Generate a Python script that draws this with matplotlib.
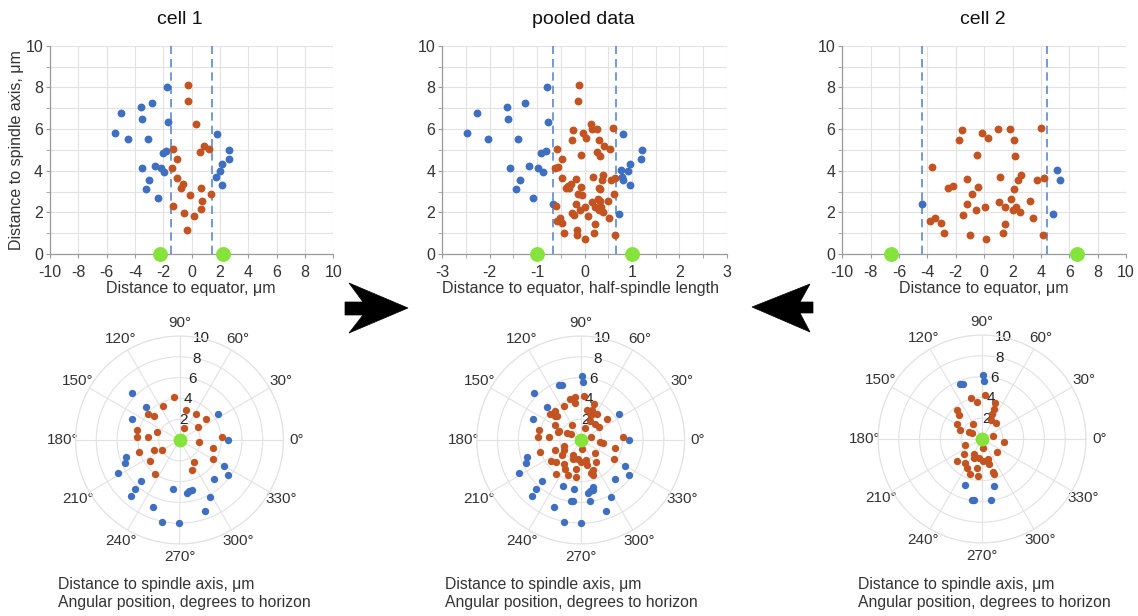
import numpy as np
import matplotlib
matplotlib.use('Agg')
import matplotlib.pyplot as plt
from matplotlib.patches import Polygon

plt.rcParams['font.family'] = ['Liberation Sans', 'DejaVu Sans']

W, H = 1138, 616
BLUE = '#3F6FC1'
ORANGE = '#C35321'
GREEN = '#86E33C'
DASH = '#5B8AD3'
TXT = '#333333'
GRID = '#E2E2E2'

# ---------------- scatter data (distance to equator, distance to spindle axis) ----------------
cell1_half = 2.2          # pole position, um
cell1_dash = 1.47         # dashed boundary, um
cell1_blue_x = [-1.76, -2.78, -3.60, -4.99, -3.53, -1.69, -5.44, -4.49, -3.10, -2.02, -1.81,
                -3.48, -2.59, -2.14, -1.93, -2.99, -3.20, -2.38,
                1.79, 2.66, 2.61, 2.12, 2.02, 1.72, 2.12]
cell1_blue_y = [8.03, 7.23, 7.04, 6.78, 6.46, 6.35, 5.82, 5.50, 5.50, 4.83, 4.96,
                4.14, 4.24, 4.14, 3.92, 3.55, 3.10, 2.69,
                5.74, 4.98, 4.56, 4.32, 3.97, 3.68, 3.31]
cell1_orange_x = [-0.24, -0.28, 0.28, -1.29, 0.89, 1.20, 0.59, -1.06, -1.36, -1.04, -0.61,
                  -0.73, -0.12, 0.66, 1.39, 0.71, 0.66, -1.34, -0.56, 0.14, -0.35]
cell1_orange_y = [8.13, 7.36, 6.24, 5.06, 5.20, 5.02, 4.91, 4.56, 4.11, 3.66, 3.34,
                  3.15, 2.85, 3.18, 2.90, 2.56, 2.16, 2.32, 1.98, 1.82, 1.17]

cell2_half = 6.58
cell2_dash = 4.40
cell2_blue_x = [-4.39, 5.12, 5.38, 4.82]
cell2_blue_y = [2.40, 4.02, 3.54, 1.92]
cell2_orange_x = [-3.71, -3.81, -3.43, -3.06, -2.82, -2.56, -2.23, -1.74, -1.53, -1.48, -1.22,
                  -1.22, -0.99, -0.85, -0.59, -0.52, -0.45, -0.14, 0.05, 0.12, 0.26, 1.01,
                  1.06, 1.13, 1.32, 1.48, 1.46, 1.79, 1.88, 2.07, 2.12, 2.16, 2.02, 2.23,
                  2.54, 2.42, 2.61, 3.20, 3.43, 3.74, 4.00, 4.21, 4.18]
cell2_orange_y = [4.19, 1.60, 1.74, 1.50, 1.02, 3.18, 3.25, 5.49, 5.95, 1.87, 2.42,
                  3.62, 0.93, 2.86, 2.13, 4.77, 3.22, 5.82, 2.26, 0.72, 5.58, 6.02,
                  2.48, 3.70, 1.02, 1.42, 2.27, 6.00, 2.62, 5.49, 3.10, 4.72, 2.11, 2.27,
                  2.03, 3.54, 3.78, 2.53, 1.71, 3.54, 6.03, 3.63, 0.90]

pooled_half = 1.0
pooled_dash = 0.67

# ---------------- polar data (angle in degrees, distance in um) ----------------
cell1_blue_theta = [135.2, 136.1, 156.1, 33.6, 359.6, 197.9, 203.0, 208.0, 226.7, 228.0, 229.2,
                    248.3, 258.2, 270.0, 262.3, 277.9, 283.6, 280.7, 329.6, 323.8, 311.9, 297.9, 289.8]
cell1_blue_r = [6.37, 4.53, 4.98, 4.46, 4.62, 5.42, 5.74, 6.68, 5.42, 6.38, 7.16,
                6.93, 8.02, 7.98, 4.76, 5.11, 4.91, 5.02, 4.94, 5.76, 4.99, 6.24, 7.29]
cell1_orange_theta = [97.1, 115.9, 77.5, 57.3, 38.6, 35.3, 72.0, 139.7, 137.7, 160.3, 166.2, 175.5,
                      174.6, 4.1, 355.1, 196.6, 200.6, 209.6, 215.3, 234.4, 347.3, 330.3, 304.7, 291.8]
cell1_orange_r = [4.17, 3.67, 2.95, 2.97, 3.24, 2.16, 1.25, 3.91, 3.38, 2.28, 4.16, 4.12,
                  3.06, 4.05, 1.87, 4.05, 2.64, 1.88, 3.49, 4.02, 3.35, 3.69, 2.53, 3.11]

cell2_blue_theta = [89.1, 87.7, 111.9, 108.7, 249.2, 260.6, 262.8, 278.4, 284.6]
cell2_blue_r = [6.12, 5.58, 5.67, 5.58, 4.70, 5.91, 5.91, 5.93, 4.70]
cell2_orange_theta = [85.7, 104.9, 98.1, 69.9, 69.0, 131.1, 134.2, 67.3, 64.3, 49.4, 119.5, 149.4,
                      157.8, 151.2, 149.6, 14.0, 353.1, 199.8, 278.1, 219.9, 319.2, 221.8, 247.7,
                      262.1, 271.7, 285.6, 234.8, 242.4, 261.0, 284.7, 288.1, 250.4, 263.3, 289.6, 243.4]
cell2_orange_r = [4.24, 4.11, 3.63, 3.72, 3.12, 3.70, 3.22, 2.57, 1.99, 2.07, 1.69, 2.83,
                  2.29, 1.46, 1.08, 1.06, 2.13, 1.70, 0.91, 2.30, 1.86, 3.22, 1.94,
                  1.88, 2.12, 2.03, 2.78, 3.18, 2.86, 2.52, 3.30, 3.54, 3.58, 3.54, 1.65]

# pooled data: cells combined, equator distance scaled by half-spindle length
pooled_blue_x = list(np.array(cell1_blue_x) / cell1_half) + list(np.array(cell2_blue_x) / cell2_half)
pooled_blue_y = cell1_blue_y + cell2_blue_y
pooled_orange_x = list(np.array(cell1_orange_x) / cell1_half) + list(np.array(cell2_orange_x) / cell2_half)
pooled_orange_y = cell1_orange_y + cell2_orange_y
pooled_blue_theta = cell1_blue_theta + cell2_blue_theta
pooled_blue_r = cell1_blue_r + cell2_blue_r
pooled_orange_theta = cell1_orange_theta + cell2_orange_theta
pooled_orange_r = cell1_orange_r + cell2_orange_r

titles = ['cell 1', 'pooled data', 'cell 2']
xlabels = ['Distance to equator, \u03bcm', 'Distance to equator, half-spindle length',
           'Distance to equator, \u03bcm']
ylabel = 'Distance to spindle axis, \u03bcm'
caption1 = 'Distance to spindle axis, \u03bcm'
caption2 = 'Angular position, degrees to horizon'
r_ticks = [2, 4, 6, 8, 10]

fig = plt.figure(figsize=(W / 100, H / 100), dpi=100)


def rect(l, t, r, b):
    return [l / W, 1 - b / H, (r - l) / W, (b - t) / H]


def scatter_panel(rc, bx, by, ox, oy, half, dash, lim, major, minor):
    ax = fig.add_axes(rc)
    ax.set_xlim(-lim, lim)
    ax.set_ylim(0, 10)
    ax.set_xticks(major)
    ax.set_xticks(minor, minor=True)
    ax.set_xticklabels([f'{v:g}' for v in major])
    ax.set_yticks(range(0, 11, 2))
    ax.set_yticks(range(0, 11), minor=True)
    ax.grid(True, which='both', color=GRID, lw=0.8)
    ax.set_axisbelow(True)
    for s in ['top', 'right']:
        ax.spines[s].set_visible(False)
    for s in ['left', 'bottom']:
        ax.spines[s].set_color('#9a9a9a')
        ax.spines[s].set_linewidth(0.9)
    ax.tick_params(which='both', color='#9a9a9a', length=3, labelsize=11.5, labelcolor=TXT)
    ax.tick_params(axis='x', pad=5)
    ax.tick_params(axis='y', pad=2)
    for d in (-dash, dash):
        ax.axvline(d, color=DASH, ls=(0, (5, 3)), lw=1.2, zorder=2)
    ax.scatter(bx, by, s=32, color=BLUE, zorder=3, linewidths=0)
    ax.scatter(ox, oy, s=32, color=ORANGE, zorder=3, linewidths=0)
    ax.scatter([-half, half], [0, 0], s=115, color=GREEN, zorder=5, clip_on=False, linewidths=0)
    return ax


def polar_panel(cx, cy, bt, br, ot, orr):
    R = 104
    ax = fig.add_axes(rect(cx - R, cy - R, cx + R, cy + R), projection='polar')
    ax.set_ylim(0, 10)
    ax.set_yticks(r_ticks)
    ax.set_yticklabels([])
    ax.set_thetagrids(range(0, 360, 30), labels=[f'{a}\u00b0' for a in range(0, 360, 30)])
    ax.grid(True, color=GRID, lw=0.8)
    ax.spines['polar'].set_color(GRID)
    ax.spines['polar'].set_linewidth(0.8)
    ax.tick_params(axis='x', labelsize=11, labelcolor=TXT, pad=-1)
    for r in r_ticks:
        ax.text(np.deg2rad(78), r, str(r), ha='center', va='center', fontsize=11,
                color='#222222', zorder=2)
    ax.scatter(np.deg2rad(bt), br, s=28, color=BLUE, zorder=3, linewidths=0)
    ax.scatter(np.deg2rad(ot), orr, s=28, color=ORANGE, zorder=3, linewidths=0)
    ax.scatter([0], [0], s=100, color=GREEN, zorder=5, linewidths=0)
    return ax


ax1 = scatter_panel(rect(50, 45.7, 333.3, 254), cell1_blue_x, cell1_blue_y, cell1_orange_x,
                    cell1_orange_y, cell1_half, cell1_dash, 10, list(range(-10, 11, 2)),
                    list(range(-10, 11, 2)))
ax2 = scatter_panel(rect(442.3, 45.7, 726.7, 254), pooled_blue_x, pooled_blue_y, pooled_orange_x,
                    pooled_orange_y, pooled_half, pooled_dash, 3, list(range(-3, 4)),
                    list(np.arange(-3, 3.01, 0.5)))
ax3 = scatter_panel(rect(842.3, 45.7, 1126, 254), cell2_blue_x, cell2_blue_y, cell2_orange_x,
                    cell2_orange_y, cell2_half, cell2_dash, 10, list(range(-10, 11, 2)),
                    list(range(-10, 11, 2)))

polar_panel(179.5, 440, cell1_blue_theta, cell1_blue_r, cell1_orange_theta, cell1_orange_r)
polar_panel(580.7, 440, pooled_blue_theta, pooled_blue_r, pooled_orange_theta, pooled_orange_r)
polar_panel(982, 439, cell2_blue_theta, cell2_blue_r, cell2_orange_theta, cell2_orange_r)

for x, t in zip([180, 583, 983], titles):
    fig.text(x / W, 1 - 20 / H, t, ha='center', va='center', fontsize=14, color='#111111')
for x, t in zip([190.5, 581, 984.2], xlabels):
    fig.text(x / W, 1 - 289 / H, t, ha='center', va='center', fontsize=11.5, color=TXT)
fig.text(17 / W, 1 - 150 / H, ylabel, ha='center', va='center', rotation=90, fontsize=11.5, color=TXT)
for x in [58, 445, 858]:
    fig.text(x / W, 1 - 584 / H, caption1, ha='left', va='center', fontsize=11.3, color=TXT)
    fig.text(x / W, 1 - 602 / H, caption2, ha='left', va='center', fontsize=11.3, color=TXT)

# big arrows pointing toward the pooled panel
left_arrow = [(408, 308), (349, 283), (363, 302), (345, 302), (345, 315), (363, 315), (349, 333)]
right_arrow = [(752, 307), (810, 284), (800, 302), (813, 302), (813, 313), (800, 313), (810, 332)]
for pts in (left_arrow, right_arrow):
    fig.patches.append(Polygon([(x / W, 1 - y / H) for x, y in pts], closed=True,
                               transform=fig.transFigure, facecolor='black', edgecolor='black', lw=0.5))

fig.savefig('out.png', dpi=100)
